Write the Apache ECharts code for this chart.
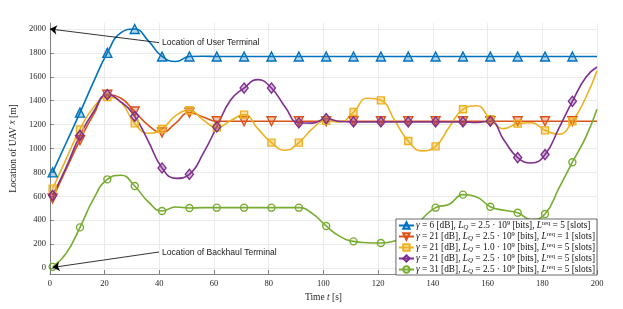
<!DOCTYPE html>
<html><head><meta charset="utf-8">
<script src="https://cdn.jsdelivr.net/npm/echarts@6/dist/echarts.min.js"></script>
<style>html,body{margin:0;padding:0;background:#fff}#c{width:623px;height:309px}</style>
</head><body><div id="c"></div>
<script>
// time samples [s] (markers every 10 s starting at 1, extra read-off points in between)
const times = [1,6,11,16,21,26,31,36,41,46,51,56,61,66,71,76,81,86,91,96,101,106,111,116,121,126,131,136,141,146,151,156,161,166,171,176,181,186,191,196,200];
const seriesBlue   = [800,1050,1300,1560,1800,1970,2000,1900,1770,1728,1770,1772,1770,1770,1770,1770,1770,1770,1770,1770,1770,1770,1770,1770,1770,1770,1770,1770,1770,1770,1770,1770,1770,1770,1770,1770,1770,1770,1770,1770,1770];
const seriesRed    = [583,830,1070,1285,1450,1420,1310,1194,1135,1213,1300,1264,1228,1228,1228,1228,1228,1228,1228,1228,1228,1228,1228,1228,1228,1228,1228,1228,1228,1228,1228,1228,1228,1228,1228,1228,1228,1228,1228,1228,1228];
const seriesYellow = [664,915,1160,1345,1430,1385,1210,1128,1163,1275,1320,1240,1175,1232,1283,1166,1049,985,1049,1166,1232,1222,1305,1420,1403,1236,1063,980,1018,1180,1328,1358,1246,1166,1208,1216,1152,1119,1228,1431,1650];
const seriesPurple = [608,845,1110,1310,1450,1389,1269,1060,837,750,784,957,1180,1403,1506,1576,1506,1347,1215,1212,1250,1226,1222,1222,1222,1222,1222,1222,1222,1222,1222,1218,1228,1069,924,879,949,1166,1395,1598,1682];
const seriesGreen  = [10,125,340,580,742,776,686,553,477,510,502,505,505,505,505,505,505,505,505,455,352,265,223,212,209,226,290,410,505,533,614,594,513,483,462,405,452,664,885,1100,1328];
const yTicks = [0,200,400,600,800,1000,1200,1400,1600,1800,2000];
const legendNames = [
  '{g|γ} = 6 [dB], {i|L}{sub|Q} = 2.5 · 10{sup|9} [bits], {i|L}{sup|req} = 5 [slots]',
  '{g|γ} = 21 [dB], {i|L}{sub|Q} = 2.5 · 10{sup|9} [bits], {i|L}{sup|req} = 1 [slots]',
  '{g|γ} = 21 [dB], {i|L}{sub|Q} = 1.0 · 10{sup|9} [bits], {i|L}{sup|req} = 5 [slots]',
  '{g|γ} = 21 [dB], {i|L}{sub|Q} = 2.5 · 10{sup|9} [bits], {i|L}{sup|req} = 5 [slots]',
  '{g|γ} = 31 [dB], {i|L}{sub|Q} = 2.5 · 10{sup|9} [bits], {i|L}{sup|req} = 5 [slots]'
];
const annUser = {text:'Location of User Terminal', from:[39.9,1886], to:[0,2000], at:[40.8,1883]};
const annBack = {text:'Location of Backhaul Terminal', from:[39.9,134], to:[1,5], at:[40.8,125]};

const SERIF = "'Liberation Serif', 'DejaVu Serif', serif";
const ids = ['s1','s2','s3','s4','s5'];
function isMark(t){ return t < 200 && (t - 1) % 10 === 0; }
function mk(idx, vals, color, fill, symbol, size, rotate) {
  return {
    type:'line', name: ids[idx], smooth: 0.5,
    data: times.map((t,i)=>{ const d = {value:[t, vals[i]]}; if(!isMark(t)) d.symbol='none'; return d; }),
    symbol: symbol, symbolSize: size, symbolRotate: rotate || 0, showSymbol: true,
    lineStyle:{color: color, width: 1.6},
    itemStyle:{color: fill, borderColor: color, borderWidth: 1.4},
    emphasis:{disabled:true}, clip:false
  };
}
const rich = {
  g:{fontFamily:SERIF, fontStyle:'italic', fontSize:9.3, lineHeight:11},
  i:{fontFamily:SERIF, fontStyle:'italic', fontSize:9.3, lineHeight:11},
  sub:{fontFamily:SERIF, fontStyle:'italic', fontSize:7, lineHeight:7, verticalAlign:'bottom'},
  sup:{fontFamily:SERIF, fontSize:6.5, lineHeight:5, verticalAlign:'top'}
};
const chart = echarts.init(document.getElementById('c'), null, {renderer:'canvas'});
chart.setOption({
  animation:false,
  backgroundColor:'#fff',
  grid:{left:49, right:26, top:23, bottom:35, containLabel:false},
  xAxis:{type:'value', min:0, max:200, interval:20,
    name:'Time {i|t} [s]', nameLocation:'middle', nameGap:18,
    nameTextStyle:{fontFamily:SERIF, fontSize:9.5, color:'#262626', rich:rich},
    axisLine:{show:true, onZero:false, lineStyle:{color:'#666', width:0.8}},
    axisTick:{show:true, inside:true, length:4, lineStyle:{color:'#666', width:0.8}},
    axisLabel:{fontFamily:SERIF, fontSize:8.5, color:'#262626', margin:5},
    splitLine:{show:true, lineStyle:{color:'#ebebeb', width:1}}
  },
  yAxis:{type:'value', min:-50, max:2050,
    name:'Location of UAV {i|x} [m]', nameLocation:'middle', nameGap:30, nameRotate:90,
    nameTextStyle:{fontFamily:SERIF, fontSize:9.5, color:'#262626', rich:rich},
    axisLine:{show:true, onZero:false, lineStyle:{color:'#666', width:0.8}},
    axisTick:{show:true, inside:true, length:4, customValues:yTicks, lineStyle:{color:'#666', width:0.8}},
    axisLabel:{fontFamily:SERIF, fontSize:8.5, color:'#262626', margin:4, customValues:yTicks, formatter:(v)=>String(v)},
    splitLine:{show:true, lineStyle:{color:'#ebebeb', width:1}}
  },
  legend:{orient:'vertical', right:26, bottom:34, itemGap:0, itemWidth:15, itemHeight:8,
    padding:[1,2,0,2], backgroundColor:'#fff', borderColor:'#444', borderWidth:0.8,
    selectedMode:false, data:ids,
    formatter:(n)=>legendNames[ids.indexOf(n)],
    textStyle:{fontFamily:SERIF, fontSize:9.3, color:'#111', lineHeight:11, padding:[0,0,0,-3], rich:rich}
  },
  series:[
    mk(0, seriesBlue, '#0072BD', 'rgba(0,114,189,0.3)', 'triangle', 9, 0),
    mk(1, seriesRed, '#D95319', 'rgba(217,83,25,0.3)', 'triangle', 9, 180),
    mk(2, seriesYellow, '#EDB120', 'rgba(237,177,32,0.35)', 'rect', 7, 0),
    mk(3, seriesPurple, '#7E2F8E', 'rgba(126,47,142,0.3)', 'diamond', [8,10], 0),
    mk(4, seriesGreen, '#77AC30', 'rgba(255,255,255,0)', 'circle', 7, 0),
    {type:'line', name:'annot', data:[], silent:true,
      markLine:{silent:true, animation:false, symbol:['none','arrow'], symbolSize:7, symbolOffset:0,
        lineStyle:{color:'#000', width:0.8, type:'solid', opacity:1}, label:{show:false}, emphasis:{disabled:true},
        data:[[{coord:annUser.from},{coord:annUser.to}],[{coord:annBack.from},{coord:annBack.to}]]},
      markPoint:{silent:true, animation:false, symbol:'rect', symbolSize:1, itemStyle:{color:'rgba(0,0,0,0)'},
        label:{show:true, position:'right', distance:0, fontFamily:"'Liberation Sans', Arial, sans-serif", fontSize:8.6, color:'#1a1a1a'},
        data:[{coord:annUser.at, label:{formatter:annUser.text}},{coord:annBack.at, label:{formatter:annBack.text}}]}
    }
  ]
});
</script></body></html>
